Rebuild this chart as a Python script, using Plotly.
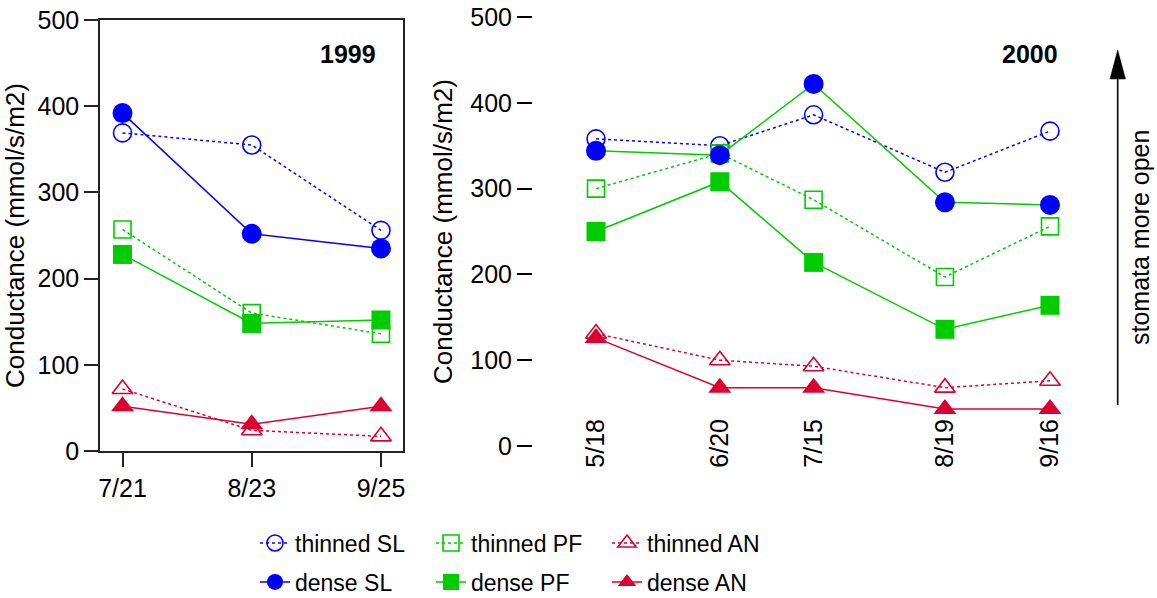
import plotly.graph_objects as go

W, H = 1157, 598

# ---------------- data ----------------
dates_1999 = ["1999-07-21", "1999-08-23", "1999-09-25"]
labels_1999 = ["7/21", "8/23", "9/25"]
dates_2000 = ["2000-05-18", "2000-06-20", "2000-07-15", "2000-08-19", "2000-09-16"]
labels_2000 = ["5/18", "6/20", "7/15", "8/19", "9/16"]

thinned_SL_1999 = [369, 355, 256]
dense_SL_1999 = [392, 252, 235]
thinned_PF_1999 = [257, 160, 136]
dense_PF_1999 = [228, 148, 152]
thinned_AN_1999 = [72, 24, 17]
dense_AN_1999 = [52, 31, 52]

thinned_SL_2000 = [358, 350, 386, 319, 367]
dense_SL_2000 = [344, 339, 422, 284, 281]
thinned_PF_2000 = [300, 341, 287, 197, 256]
dense_PF_2000 = [250, 308, 214, 136, 164]
thinned_AN_2000 = [131, 100, 93, 68, 76]
dense_AN_2000 = [126, 68, 68, 43, 43]

y_ticks = [0, 100, 200, 300, 400, 500]

# ---------------- styles ----------------
BLUE = "#0000FF"
GREEN = "#00CC00"
RED = "#DC0032"
FONT = "Arial, Liberation Sans, Helvetica, sans-serif"

series = [
    # name, 1999, 2000, color, symbol, dash, line colour in 2000, legend
    ("thinned SL", thinned_SL_1999, thinned_SL_2000, BLUE, "circle-open", "dot", BLUE, "legend"),
    ("thinned PF", thinned_PF_1999, thinned_PF_2000, GREEN, "square-open", "dot", GREEN, "legend"),
    ("thinned AN", thinned_AN_1999, thinned_AN_2000, RED, "triangle-up-open", "dot", RED, "legend"),
    ("dense SL", dense_SL_1999, dense_SL_2000, BLUE, "circle", "solid", GREEN, "legend2"),
    ("dense PF", dense_PF_1999, dense_PF_2000, GREEN, "square", "solid", GREEN, "legend2"),
    ("dense AN", dense_AN_1999, dense_AN_2000, RED, "triangle-up", "solid", RED, "legend2"),
]

fig = go.Figure()


def marker_for(color, symbol):
    size = 20 if "triangle" in symbol else (19 if "square" in symbol else 20)
    if symbol.endswith("open"):
        size -= 2
        return dict(symbol=symbol, size=size, color=color, line=dict(color=color, width=1.6))
    return dict(symbol=symbol, size=size, color=color, line=dict(width=0))


for name, y99, y00, color, symbol, dash, lc2000, leg in series:
    fig.add_trace(go.Scatter(
        x=dates_1999, y=y99, name=name, mode="lines+markers",
        line=dict(color=color, width=1.5, dash=dash),
        marker=marker_for(color, symbol),
        xaxis="x", yaxis="y", legend=leg, showlegend=True,
    ))
    fig.add_trace(go.Scatter(
        x=dates_2000, y=y00, name=name, mode="lines+markers",
        line=dict(color=lc2000, width=1.5, dash=dash),
        marker=marker_for(color, symbol),
        xaxis="x2", yaxis="y2", showlegend=False,
    ))


def px(x):
    return x / W


def py(y):
    return 1 - y / H


tickfont = dict(family=FONT, size=25, color="black")
titlefont = dict(family=FONT, size=26, color="black")

fig.update_layout(
    width=W, height=H,
    margin=dict(l=0, r=0, t=0, b=0, autoexpand=False),
    paper_bgcolor="white", plot_bgcolor="white",
    font=dict(family=FONT, color="black"),
    xaxis=dict(
        domain=[px(100), px(403)], anchor="y", type="date",
        range=["1999-07-15 06:00", "1999-09-30 15:00"],
        tickvals=dates_1999, ticktext=labels_1999,
        ticks="outside", ticklen=14, tickwidth=1.5, tickcolor="#222",
        showline=True, mirror=True, linecolor="#222", linewidth=1.5,
        showgrid=False, zeroline=False, tickfont=tickfont,
    ),
    yaxis=dict(
        domain=[py(451), py(20)], anchor="x", range=[0, 500],
        tickvals=y_ticks, ticks="outside", ticklen=14, tickwidth=1.5, tickcolor="#222",
        showline=True, mirror=True, linecolor="#222", linewidth=1.5,
        showgrid=False, zeroline=False, tickfont=tickfont,
        title=dict(text="Conductance (mmol/s/m2)", font=titlefont, standoff=6),
    ),
    xaxis2=dict(
        domain=[px(533), px(1075)], anchor="free", position=py(413), type="date",
        range=["2000-05-01 05:00", "2000-09-22 16:00"],
        tickvals=dates_2000, ticktext=labels_2000, tickangle=-90,
        ticks="", showline=False, showgrid=False, zeroline=False, tickfont=tickfont,
    ),
    yaxis2=dict(
        domain=[py(446), py(17)], anchor="x2", range=[0, 500],
        tickvals=y_ticks, ticks="outside", ticklen=15, tickwidth=1.5, tickcolor="black",
        showline=False, showgrid=False, zeroline=False, tickfont=tickfont,
        title=dict(text="Conductance (mmol/s/m2)", font=titlefont, standoff=10),
    ),
    legend=dict(
        orientation="h", x=px(255), xanchor="left", y=py(543), yanchor="middle",
        font=dict(family=FONT, size=23, color="black"),
        entrywidth=131, entrywidthmode="pixels", bgcolor="rgba(0,0,0,0)",
        itemclick=False, itemdoubleclick=False,
    ),
    legend2=dict(
        orientation="h", x=px(255), xanchor="left", y=py(582), yanchor="middle",
        font=dict(family=FONT, size=23, color="black"),
        entrywidth=131, entrywidthmode="pixels", bgcolor="rgba(0,0,0,0)",
        itemclick=False, itemdoubleclick=False,
    ),
    annotations=[
        dict(text="<b>1999</b>", x=px(348), y=py(54), xref="paper", yref="paper",
             xanchor="center", yanchor="middle",
             showarrow=False, font=dict(family=FONT, size=25, color="black")),
        dict(text="<b>2000</b>", x=px(1030), y=py(54), xref="paper", yref="paper",
             xanchor="center", yanchor="middle",
             showarrow=False, font=dict(family=FONT, size=25, color="black")),
        dict(text="stomata more open", x=px(1140), y=py(238), xref="paper", yref="paper",
             xanchor="center", yanchor="middle",
             showarrow=False, textangle=-90, font=dict(family=FONT, size=25, color="black")),
    ],
    shapes=[
        dict(type="line", xref="paper", yref="paper",
             x0=px(1117.7), x1=px(1117.7), y0=py(405), y1=py(76),
             line=dict(color="#111", width=1.7)),
        dict(type="path", xref="paper", yref="paper",
             path=f"M {px(1110)},{py(79)} L {px(1125.5)},{py(79)} L {px(1117.7)},{py(50)} Z",
             fillcolor="black", line=dict(color="black", width=0.5)),
    ],
)

fig.write_html("out.html")
